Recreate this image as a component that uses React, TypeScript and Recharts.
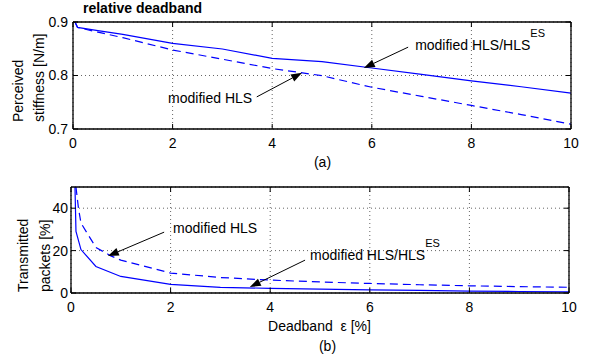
import React from 'react';
import { LineChart, Line, XAxis, YAxis, CartesianGrid, ReferenceLine, ReferenceDot } from 'recharts';

const FONT = '"Liberation Sans", Arial, Helvetica, sans-serif';
const BLUE = '#0000ff';

// tick values
const xTicks = [0, 2, 4, 6, 8, 10];
const stiffTicks = [0.7, 0.8, 0.9];
const packetTicks = [0, 20, 40];
const xDomain = [0, 10];
const stiffDomain = [0.7, 0.9];
const packetDomain = [0, 50];

// (a) perceived stiffness
const stiffX = [0.04, 0.09, 0.5, 1, 2, 3, 4, 5, 6, 7, 8, 9, 10];
const stiffEs = [0.9, 0.89, 0.884, 0.877, 0.86, 0.8495, 0.832, 0.826, 0.814, 0.802, 0.79, 0.779, 0.767];
const stiffHls = [0.9, 0.89, 0.881, 0.8707, 0.8477, 0.8305, 0.813, 0.7996, 0.778, 0.761, 0.744, 0.727, 0.709];

// (b) transmitted packets
const packEsX = [0.08, 0.1, 0.2, 0.5, 1, 2, 3, 4, 5, 6, 7, 8, 9, 10];
const packEs = [50, 29, 20.5, 12.5, 7.8, 4.1, 2.7, 2.2, 1.8, 1.5, 1.2, 0.9, 0.7, 0.5];
const packHlsX = [0.1, 0.15, 0.2, 0.5, 0.8, 1, 2, 3, 4, 5, 6, 7, 8, 9, 10];
const packHls = [50, 40, 33, 21.5, 17.5, 15.5, 9.4, 7.3, 6.1, 5.2, 4.5, 3.9, 3.4, 3.0, 2.7];

const zip = (xs: number[], ys: number[]) => xs.map((x, i) => ({ x, y: ys[i] }));
const stiffEsData = zip(stiffX, stiffEs);
const stiffHlsData = zip(stiffX, stiffHls);
const packEsData = zip(packEsX, packEs);
const packHlsData = zip(packHlsX, packHls);

// annotations (data coordinates)
const topArrows = [
  { from: { x: 3.69, y: 0.76 }, to: { x: 4.6, y: 0.805 } },
  { from: { x: 6.73, y: 0.853 }, to: { x: 5.84, y: 0.814 } },
];
const topNotes = [
  { x: 1.91, y: 0.7486, text: 'modified HLS', sup: '' },
  { x: 6.87, y: 0.8477, text: 'modified HLS/HLS', sup: 'ES' },
];
const botArrows = [
  { from: { x: 1.87, y: 28.7 }, to: { x: 0.74, y: 17.4 } },
  { from: { x: 4.7, y: 15.5 }, to: { x: 3.59, y: 2.8 } },
];
const botNotes = [
  { x: 2.05, y: 28.2, text: 'modified HLS', sup: '' },
  { x: 4.8, y: 15.5, text: 'modified HLS/HLS', sup: 'ES' },
];

const Arrow = (p: any) => {
  const { x1, y1, x2, y2 } = p;
  if ([x1, y1, x2, y2].some((v) => typeof v !== 'number')) return null;
  const dx = x2 - x1;
  const dy = y2 - y1;
  const len = Math.hypot(dx, dy) || 1;
  const ux = dx / len;
  const uy = dy / len;
  const hl = 11;
  const hw = 4;
  const bx = x2 - ux * hl;
  const by = y2 - uy * hl;
  const px = -uy * hw;
  const py = ux * hw;
  return (
    <g>
      <line x1={x1} y1={y1} x2={bx} y2={by} stroke="#000" strokeWidth={1} />
      <polygon points={`${x2},${y2} ${bx + px},${by + py} ${bx - px},${by - py}`} fill="#000" />
    </g>
  );
};

const noteShape = (text: string, sup: string) => (p: any) => (
  <text x={p.cx} y={p.cy} fontFamily={FONT} fontSize={14} fill="#000">
    <tspan>{text}</tspan>
    {sup ? (
      <tspan dy={-13} fontSize={11}>
        {sup}
      </tspan>
    ) : null}
  </text>
);

const tickStyle = { fontFamily: FONT, fontSize: 14, fill: '#000' };
const axisLine = { stroke: '#000', strokeWidth: 1.3 };
const tickLine = { stroke: '#000', strokeWidth: 1 };
const blank = () => '';

const TopYLabel = () => (
  <g fontFamily={FONT} fontSize={14} fill="#000">
    <text x={23} y={122} transform="rotate(-90 23 122)" textAnchor="start">Perceived</text>
    <text x={44} y={122} transform="rotate(-90 44 122)" textAnchor="start">stiffness [N/m]</text>
    <text x={83} y={13} fontWeight="bold">relative deadband</text>
  </g>
);

const TopXLabel = () => (
  <text x={322.5} y={167} fontFamily={FONT} fontSize={14} fill="#000" textAnchor="middle">(a)</text>
);

const BotYLabel = () => (
  <g fontFamily={FONT} fontSize={14} fill="#000">
    <text x={28} y={112} transform="rotate(-90 28 112)" textAnchor="start">Transmitted</text>
    <text x={50} y={112} transform="rotate(-90 50 112)" textAnchor="start">packets [%]</text>
  </g>
);

const BotXLabel = () => (
  <g fontFamily={FONT} fontSize={14} fill="#000">
    <text x={319.5} y={151} textAnchor="middle" style={{ whiteSpace: 'pre' }}>{'Deadband\u00a0 ε [%]'}</text>
    <text x={327.5} y={171} textAnchor="middle">(b)</text>
  </g>
);

export default function App() {
  return (
    <div style={{ position: 'absolute', left: 0, top: 0, width: 592, height: 364, background: '#fff' }}>
      <div style={{ position: 'absolute', left: 0, top: 0 }}>
        <LineChart width={592} height={180} margin={{ top: 21, right: 20, bottom: 0, left: 0 }}>
          <CartesianGrid stroke="#666" strokeDasharray="1 3" />
          <XAxis
            dataKey="x"
            type="number"
            domain={xDomain}
            ticks={xTicks}
            height={51}
            tick={tickStyle}
            tickSize={-5}
            tickMargin={14}
            axisLine={axisLine}
            tickLine={tickLine}
            label={<TopXLabel />}
            allowDuplicatedCategory={false}
          />
          <XAxis
            xAxisId="top"
            orientation="top"
            dataKey="x"
            type="number"
            domain={xDomain}
            ticks={xTicks}
            height={1}
            tickFormatter={blank}
            tickSize={-5}
            axisLine={axisLine}
            tickLine={tickLine}
          />
          <YAxis
            type="number"
            domain={stiffDomain}
            ticks={stiffTicks}
            width={73}
            tick={tickStyle}
            tickSize={-5}
            tickMargin={10}
            axisLine={axisLine}
            tickLine={tickLine}
            tickFormatter={(v: number) => v.toFixed(1)}
            label={<TopYLabel />}
          />
          <YAxis
            yAxisId="right"
            orientation="right"
            type="number"
            domain={stiffDomain}
            ticks={stiffTicks}
            width={1}
            tickFormatter={blank}
            tickSize={-5}
            axisLine={axisLine}
            tickLine={tickLine}
          />
          <Line data={stiffEsData} dataKey="y" xAxisId="top" yAxisId="right" stroke="none" dot={false} activeDot={false} isAnimationActive={false} />
          <Line data={stiffEsData} dataKey="y" stroke={BLUE} strokeWidth={1.2} dot={false} isAnimationActive={false} />
          <Line data={stiffHlsData} dataKey="y" stroke={BLUE} strokeWidth={1.2} strokeDasharray="8 5" dot={false} isAnimationActive={false} />
          {topArrows.map((a, i) => (
            <ReferenceLine key={'ta' + i} segment={[a.from, a.to]} shape={Arrow} />
          ))}
          {topNotes.map((n, i) => (
            <ReferenceDot key={'tn' + i} x={n.x} y={n.y} r={0} shape={noteShape(n.text, n.sup)} />
          ))}
        </LineChart>
      </div>
      <div style={{ position: 'absolute', left: 0, top: 180 }}>
        <LineChart width={592} height={184} margin={{ top: 6, right: 22, bottom: 0, left: 0 }}>
          <CartesianGrid stroke="#666" strokeDasharray="1 3" />
          <XAxis
            dataKey="x"
            type="number"
            domain={xDomain}
            ticks={xTicks}
            height={71}
            tick={tickStyle}
            tickSize={-5}
            tickMargin={14}
            axisLine={axisLine}
            tickLine={tickLine}
            label={<BotXLabel />}
            allowDuplicatedCategory={false}
          />
          <XAxis
            xAxisId="top"
            orientation="top"
            dataKey="x"
            type="number"
            domain={xDomain}
            ticks={xTicks}
            height={1}
            tickFormatter={blank}
            tickSize={-5}
            axisLine={axisLine}
            tickLine={tickLine}
          />
          <YAxis
            type="number"
            domain={packetDomain}
            ticks={packetTicks}
            width={71}
            tick={tickStyle}
            tickSize={-5}
            tickMargin={8}
            axisLine={axisLine}
            tickLine={tickLine}
            label={<BotYLabel />}
          />
          <YAxis
            yAxisId="right"
            orientation="right"
            type="number"
            domain={packetDomain}
            ticks={packetTicks}
            width={1}
            tickFormatter={blank}
            tickSize={-5}
            axisLine={axisLine}
            tickLine={tickLine}
          />
          <Line data={packEsData} dataKey="y" xAxisId="top" yAxisId="right" stroke="none" dot={false} activeDot={false} isAnimationActive={false} />
          <Line data={packEsData} dataKey="y" stroke={BLUE} strokeWidth={1.2} dot={false} isAnimationActive={false} />
          <Line data={packHlsData} dataKey="y" stroke={BLUE} strokeWidth={1.2} strokeDasharray="8 5" dot={false} isAnimationActive={false} />
          {botArrows.map((a, i) => (
            <ReferenceLine key={'ba' + i} segment={[a.from, a.to]} shape={Arrow} />
          ))}
          {botNotes.map((n, i) => (
            <ReferenceDot key={'bn' + i} x={n.x} y={n.y} r={0} shape={noteShape(n.text, n.sup)} />
          ))}
        </LineChart>
      </div>
    </div>
  );
}
